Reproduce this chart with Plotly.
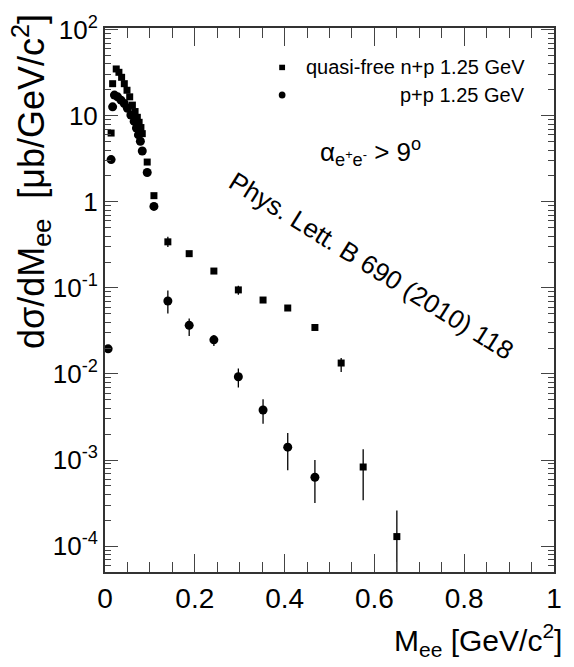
import plotly.graph_objects as go

# quasi-free n+p 1.25 GeV (squares)
m_np = [0.0136, 0.017, 0.025, 0.031, 0.037, 0.043, 0.049, 0.055, 0.061, 0.067,
        0.072, 0.076, 0.080, 0.083, 0.094, 0.109, 0.14, 0.1875, 0.2425, 0.297,
        0.352, 0.407, 0.4675, 0.526, 0.575, 0.65]
v_np = [6.3, 23.6, 35, 32, 28, 23.6, 19.8, 16.6, 13.3, 11.2,
        9.6, 8.4, 7.3, 6.2, 2.9, 1.18, 0.343, 0.25, 0.157, 0.0948,
        0.0723, 0.0584, 0.0347, 0.0134, 8.3e-4, 1.29e-4]
hi_np = [6.3, 23.6, 35, 32, 28, 23.6, 19.8, 16.6, 13.3, 11.2,
         9.6, 8.4, 7.3, 6.2, 2.9, 1.18, 0.392, 0.25, 0.157, 0.106,
         0.0723, 0.0584, 0.0347, 0.01535, 1.33e-3, 2.6e-4]
lo_np = [6.3, 23.6, 35, 32, 28, 23.6, 19.8, 16.6, 13.3, 11.2,
         9.6, 8.4, 7.3, 6.2, 2.9, 1.18, 0.298, 0.25, 0.157, 0.083,
         0.0723, 0.0584, 0.0347, 0.01052, 3.4e-4, 3e-5]

# p+p 1.25 GeV (circles)
m_pp = [0.007, 0.0136, 0.017, 0.021, 0.028, 0.0356, 0.043, 0.050, 0.0576, 0.065,
        0.070, 0.0745, 0.0788, 0.083, 0.094, 0.109, 0.14, 0.1875, 0.2425, 0.297,
        0.352, 0.407, 0.4675]
v_pp = [0.0196, 3.1, 12.7, 17.4, 16.6, 15.2, 13.9, 12.2, 10.2, 8.6,
        7.2, 6.0, 5.06, 3.9, 2.19, 0.885, 0.0704, 0.0367, 0.0249, 0.00929,
        0.00381, 0.00141, 6.3e-4]
hi_pp = [0.0196, 3.1, 12.7, 17.4, 16.6, 15.2, 13.9, 12.2, 10.2, 8.6,
         7.2, 6.0, 5.06, 3.9, 2.19, 0.885, 0.093, 0.044, 0.0284, 0.01156,
         0.0051, 0.00206, 1.0e-3]
lo_pp = [0.0196, 3.1, 12.7, 17.4, 16.6, 15.2, 13.9, 12.2, 10.2, 8.6,
         7.2, 6.0, 5.06, 3.9, 2.19, 0.885, 0.0503, 0.0277, 0.0212, 0.00695,
         0.00264, 7.6e-4, 3.16e-4]

y_tickvals = [1e2, 1e1, 1, 1e-1, 1e-2, 1e-3, 1e-4]
y_ticktext = ["10<sup>2</sup>", "10", "1", "10<sup>-1</sup>", "10<sup>-2</sup>",
              "10<sup>-3</sup>", "10<sup>-4</sup>"]
x_tickvals = [0, 0.2, 0.4, 0.6, 0.8, 1]
x_ticktext = ["0", "0.2", "0.4", "0.6", "0.8", "1"]

FONT = "Liberation Sans, Arial, sans-serif"

fig = go.Figure()
fig.add_trace(go.Scatter(
    x=m_np, y=v_np, mode="markers",
    marker=dict(symbol="square", size=7, color="black"),
    error_y=dict(type="data", symmetric=False,
                 array=[h - v for h, v in zip(hi_np, v_np)],
                 arrayminus=[v - l for v, l in zip(v_np, lo_np)],
                 width=0, thickness=1.3, color="black"),
    showlegend=False))
fig.add_trace(go.Scatter(
    x=m_pp, y=v_pp, mode="markers",
    marker=dict(symbol="circle", size=9, color="black"),
    error_y=dict(type="data", symmetric=False,
                 array=[h - v for h, v in zip(hi_pp, v_pp)],
                 arrayminus=[v - l for v, l in zip(v_pp, lo_pp)],
                 width=0, thickness=1.3, color="black"),
    showlegend=False))

fig.update_layout(
    width=574, height=667,
    margin=dict(l=105, r=14, t=20, b=95),
    paper_bgcolor="white", plot_bgcolor="white",
    font=dict(family=FONT, color="black"),
    xaxis=dict(range=[0, 1], tickvals=x_tickvals, ticktext=x_ticktext,
               ticks="inside", ticklen=18, tickwidth=1.3, tickcolor="#444",
               minor=dict(dtick=0.05, ticks="inside", ticklen=10, tickwidth=1.3,
                          tickcolor="#444", showgrid=False),
               showline=True, linewidth=2, linecolor="#333", mirror="ticks",
               showgrid=False, zeroline=False,
               tickfont=dict(size=28, family=FONT)),
    yaxis=dict(type="log", range=[-4.301, 2.02], tickvals=y_tickvals,
               ticktext=y_ticktext,
               ticks="inside", ticklen=13, tickwidth=1.3, tickcolor="#444",
               minor=dict(dtick="D1", ticks="inside", ticklen=6, tickwidth=1,
                          tickcolor="#444", showgrid=False),
               showline=True, linewidth=2, linecolor="#333", mirror="ticks",
               showgrid=False, zeroline=False,
               tickfont=dict(size=26, family=FONT)),
)

# axis titles
fig.add_annotation(xref="paper", yref="paper", x=1.022, y=-0.083,
                   xanchor="right", yanchor="top", showarrow=False,
                   text="M<sub>ee</sub> [GeV/c<sup>2</sup>]",
                   font=dict(size=30, family=FONT))
fig.add_annotation(xref="paper", yref="paper", x=-0.165, y=1.03,
                   xanchor="center", yanchor="top", showarrow=False,
                   textangle=-90,
                   text="dσ/dM<sub>ee</sub>  [μb/GeV/c<sup>2</sup>]",
                   font=dict(size=36, family=FONT))

# legend
fig.add_shape(type="rect", xref="paper", yref="paper",
              x0=0.388, x1=0.401, y0=0.9225, y1=0.9325,
              fillcolor="black", line=dict(width=0))
fig.add_shape(type="circle", xref="paper", yref="paper",
              x0=0.387, x1=0.402, y0=0.8705, y1=0.8835,
              fillcolor="black", line=dict(width=0))
fig.add_annotation(xref="paper", yref="paper", x=0.94, y=0.9275,
                   xanchor="right", yanchor="middle", showarrow=False,
                   text="quasi-free n+p 1.25 GeV",
                   font=dict(size=20, family=FONT))
fig.add_annotation(xref="paper", yref="paper", x=0.94, y=0.877,
                   xanchor="right", yanchor="middle", showarrow=False,
                   text="p+p 1.25 GeV",
                   font=dict(size=20, family=FONT))

# cut label
fig.add_annotation(xref="paper", yref="paper", x=0.592, y=0.772,
                   xanchor="center", yanchor="middle", showarrow=False,
                   text="α<sub>e<sup>+</sup>e<sup>-</sup></sub> > 9<sup>o</sup>",
                   font=dict(size=26, family=FONT))

# reference
fig.add_annotation(xref="paper", yref="paper", x=0.594, y=0.563,
                   xanchor="center", yanchor="middle", showarrow=False,
                   textangle=32,
                   text="Phys. Lett. B 690 (2010) 118",
                   font=dict(size=26, family=FONT))

fig.write_html("out.html")
